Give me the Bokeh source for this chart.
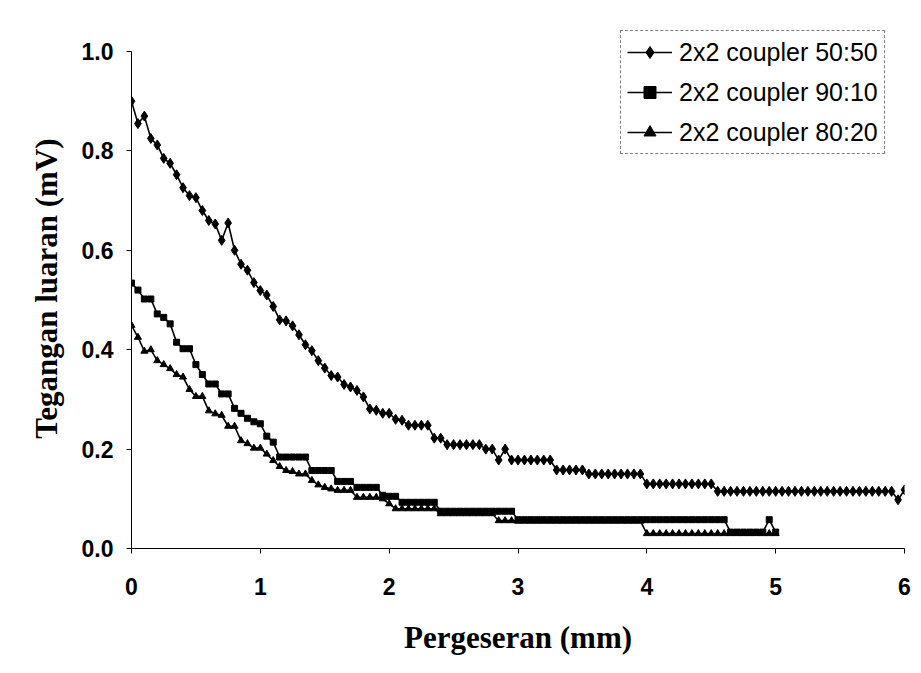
from bokeh.plotting import figure
from bokeh.models import Legend, LegendItem, FixedTicker, NumeralTickFormatter
from bokeh.embed import file_html
from bokeh.resources import INLINE

# ---- data ----
step = 0.05
s1_y = [0.900, 0.855, 0.870, 0.825, 0.812, 0.785, 0.775, 0.752, 0.726, 0.710,
        0.706, 0.680, 0.660, 0.653, 0.620, 0.655, 0.600, 0.572, 0.560, 0.535,
        0.519, 0.510, 0.487, 0.460, 0.458, 0.448, 0.430, 0.410, 0.398, 0.378,
        0.363, 0.348, 0.345, 0.330, 0.325, 0.318, 0.305, 0.281, 0.278, 0.272,
        0.272, 0.260, 0.258, 0.248, 0.248, 0.248, 0.248, 0.222, 0.222, 0.209,
        0.209, 0.209, 0.209, 0.209, 0.209, 0.200, 0.200, 0.178, 0.200, 0.178,
        0.178, 0.178, 0.178, 0.178, 0.178, 0.178, 0.158, 0.158, 0.158, 0.158,
        0.158, 0.150, 0.150, 0.150, 0.150, 0.150, 0.150, 0.150, 0.150, 0.150,
        0.130, 0.130, 0.130, 0.130, 0.130, 0.130, 0.130, 0.130, 0.130, 0.130,
        0.130, 0.115, 0.115, 0.115, 0.115, 0.115, 0.115, 0.115, 0.115, 0.115,
        0.115, 0.115, 0.115, 0.115, 0.115, 0.115, 0.115, 0.115, 0.115, 0.115,
        0.115, 0.115, 0.115, 0.115, 0.115, 0.115, 0.115, 0.115, 0.115, 0.098,
        0.118]
s2_y = [0.534, 0.520, 0.502, 0.502, 0.472, 0.465, 0.452, 0.415, 0.402, 0.402,
        0.370, 0.350, 0.331, 0.331, 0.311, 0.311, 0.282, 0.272, 0.262, 0.255,
        0.251, 0.226, 0.214, 0.184, 0.184, 0.184, 0.184, 0.184, 0.157, 0.157,
        0.157, 0.157, 0.135, 0.135, 0.135, 0.123, 0.123, 0.123, 0.123, 0.107,
        0.105, 0.105, 0.093, 0.093, 0.093, 0.093, 0.093, 0.093, 0.075, 0.075,
        0.075, 0.075, 0.075, 0.075, 0.075, 0.075, 0.075, 0.075, 0.075, 0.075,
        0.058, 0.058, 0.058, 0.058, 0.058, 0.058, 0.058, 0.058, 0.058, 0.058,
        0.058, 0.058, 0.058, 0.058, 0.058, 0.058, 0.058, 0.058, 0.058, 0.058,
        0.058, 0.058, 0.058, 0.058, 0.058, 0.058, 0.058, 0.058, 0.058, 0.058,
        0.058, 0.058, 0.058, 0.033, 0.033, 0.033, 0.033, 0.033, 0.033, 0.058,
        0.033]
s3_y = [0.449, 0.425, 0.397, 0.400, 0.378, 0.370, 0.362, 0.350, 0.345, 0.320,
        0.306, 0.306, 0.277, 0.271, 0.268, 0.246, 0.246, 0.217, 0.211, 0.202,
        0.202, 0.190, 0.177, 0.165, 0.157, 0.155, 0.150, 0.150, 0.137, 0.128,
        0.123, 0.120, 0.117, 0.117, 0.117, 0.103, 0.103, 0.103, 0.103, 0.100,
        0.090, 0.080, 0.080, 0.080, 0.080, 0.080, 0.080, 0.080, 0.070, 0.070,
        0.070, 0.070, 0.070, 0.070, 0.070, 0.070, 0.070, 0.056, 0.056, 0.056,
        0.055, 0.055, 0.055, 0.055, 0.055, 0.055, 0.055, 0.055, 0.055, 0.055,
        0.055, 0.055, 0.055, 0.055, 0.055, 0.055, 0.055, 0.055, 0.055, 0.055,
        0.030, 0.030, 0.030, 0.030, 0.030, 0.030, 0.030, 0.030, 0.030, 0.030,
        0.030, 0.030, 0.030, 0.030, 0.030, 0.030, 0.030, 0.030, 0.030, 0.030,
        0.030]
s1_x = [round(i * step, 2) for i in range(len(s1_y))]
s2_x = [round(i * step, 2) for i in range(len(s2_y))]
s3_x = [round(i * step, 2) for i in range(len(s3_y))]

labels = ["2x2 coupler 50:50", "2x2 coupler 90:10", "2x2 coupler 80:20"]
x_ticks = [0, 1, 2, 3, 4, 5, 6]
y_ticks = [0.0, 0.2, 0.4, 0.6, 0.8, 1.0]
x_title = "Pergeseran (mm)"
y_title = "Tegangan luaran (mV)"

# frame extends a little above 1.0 so the legend (which sits above the axis top) is not clipped
p = figure(width=915, height=660, x_range=(0, 6), y_range=(0, 1.0463),
           output_backend="svg", toolbar_location=None,
           min_border_left=131, min_border_top=28, min_border_right=11,
           min_border_bottom=112)
p.outline_line_color = None
p.grid.visible = False
p.background_fill_color = "white"
p.border_fill_color = "white"

l1 = p.line(s1_x, s1_y, line_color="black", line_width=1.6)
m1 = p.scatter(s1_x, s1_y, marker="diamond", size=10, fill_color="black", line_color="black")
l2 = p.line(s2_x, s2_y, line_color="black", line_width=1.6)
m2 = p.scatter(s2_x, s2_y, marker="square", size=6, fill_color="black", line_color="black")
l3 = p.line(s3_x, s3_y, line_color="black", line_width=1.6)
m3 = p.scatter(s3_x, s3_y, marker="triangle", size=7, fill_color="black", line_color="black")

for ax in (p.xaxis, p.yaxis):
    ax.axis_line_color = "black"
    ax.axis_line_width = 1
    ax.major_tick_line_color = "black"
    ax.major_tick_out = 5
    ax.major_tick_in = 0
    ax.minor_tick_line_color = None
    ax.major_label_text_font = "Liberation Sans"
    ax.major_label_text_font_style = "bold"
    ax.major_label_text_font_size = "23px"
    ax.major_label_text_color = "black"
    ax.axis_label_text_font = "Liberation Serif"
    ax.axis_label_text_font_style = "bold"
    ax.axis_label_text_font_size = "31px"
    ax.axis_label_text_color = "black"

p.yaxis.bounds = (0, 1.0)
p.xaxis.ticker = FixedTicker(ticks=x_ticks)
p.yaxis.ticker = FixedTicker(ticks=y_ticks)
p.yaxis.formatter = NumeralTickFormatter(format="0.0")
p.xaxis.axis_label = x_title
p.yaxis.axis_label = y_title
p.xaxis.major_label_standoff = 24
p.yaxis.major_label_standoff = 13
p.xaxis.axis_label_standoff = 22
p.yaxis.axis_label_standoff = 15

legend = Legend(items=[LegendItem(label=labels[0], renderers=[l1, m1]),
                       LegendItem(label=labels[1], renderers=[l2, m2]),
                       LegendItem(label=labels[2], renderers=[l3, m3])],
                location=(489, 394))
legend.label_text_font = "Liberation Sans"
legend.label_text_font_size = "25px"
legend.label_text_color = "black"
legend.glyph_width = 45
legend.glyph_height = 30
legend.label_height = 30
legend.spacing = 10
legend.padding = 6
legend.margin = 0
legend.label_standoff = 7
legend.border_line_color = "black"
legend.border_line_width = 1
legend.border_line_dash = "6 3"
legend.background_fill_color = "white"
legend.background_fill_alpha = 1
p.add_layout(legend)

open("out.html", "w").write(file_html(p, INLINE))
